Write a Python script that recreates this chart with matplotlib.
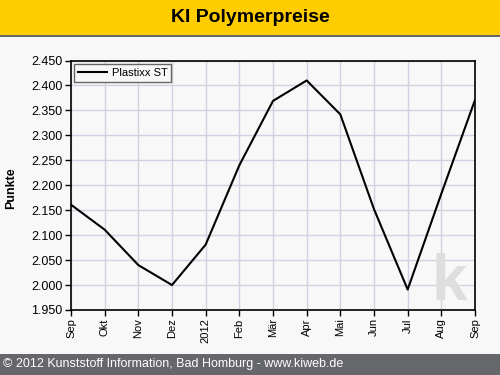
import matplotlib
matplotlib.use("Agg")
import matplotlib.pyplot as plt
from matplotlib.patches import Rectangle

plt.rcParams['font.family'] = ['Liberation Sans', 'DejaVu Sans']

# data
months = ['Sep', 'Okt', 'Nov', 'Dez', '2012', 'Feb', 'Mär', 'Apr',
          'Mai', 'Jun', 'Jul', 'Aug', 'Sep']
plastixx = [2.161, 2.111, 2.040, 2.000, 2.081, 2.240, 2.369, 2.410,
            2.342, 2.152, 1.991, 2.183, 2.371]
y_ticks = [1.95, 2.0, 2.05, 2.1, 2.15, 2.2, 2.25, 2.3, 2.35, 2.4, 2.45]

W, H = 500, 375
fig = plt.figure(figsize=(W / 100, H / 100), dpi=100)
fig.patch.set_facecolor('#f8f8f8')

# header and footer bars
fig.patches.append(Rectangle((0, 1 - 35 / H), 1, 35 / H, transform=fig.transFigure,
                             facecolor='#ffcc00', edgecolor='none', zorder=0))
fig.patches.append(Rectangle((0, 1 - 37 / H), 1, 2 / H, transform=fig.transFigure,
                             facecolor='#666666', edgecolor='none', zorder=0))
fig.patches.append(Rectangle((0, 0), 1, 21 / H, transform=fig.transFigure,
                             facecolor='#66676b', edgecolor='none', zorder=0))
fig.text(0.5, 1 - 18 / H, 'KI Polymerpreise', ha='center', va='center',
         fontsize=14, fontweight='bold', color='black')
fig.text(3 / W, 10.5 / H, '© 2012 Kunststoff Information, Bad Homburg - www.kiweb.de',
         ha='left', va='center', fontsize=9, color='white')

ax = fig.add_axes([71 / W, 1 - 310 / H, 404 / W, 249.5 / H])
ax.set_facecolor('#f8f8f8')
x = list(range(len(months)))
ax.plot(x, plastixx, color='black', linewidth=1.5, label='Plastixx ST', zorder=3)

ax.set_xlim(0, len(months) - 1)
ax.set_ylim(1.95, 2.45)
ax.set_xticks(x)
ax.set_xticklabels(months, rotation=90, fontsize=8)
ax.set_yticks(y_ticks)
ax.set_yticklabels(['%.3f' % v for v in y_ticks], fontsize=9)
ax.tick_params(direction='out', length=4, width=1, color='black', pad=2)
ax.grid(True, color='#d4d0e2', linewidth=1)
ax.set_axisbelow(True)
for s in ax.spines.values():
    s.set_color('black')
    s.set_linewidth(1.2)
ax.set_ylabel('Punkte', fontsize=9, fontweight='bold')
ax.yaxis.set_label_coords(-0.134, 0.49)

# watermark
ax.text(0.937, 0.04, 'k', transform=ax.transAxes, ha='center', va='baseline',
        fontsize=46, fontweight='bold', color='#dedede', zorder=1)

leg = ax.legend(loc='upper left', fontsize=8, frameon=True, fancybox=False,
                handlelength=2.6, borderpad=0.35, borderaxespad=0.3,
                handletextpad=0.4)
leg.get_frame().set_edgecolor('#666666')
leg.get_frame().set_facecolor('#f8f8f8')
leg.get_frame().set_alpha(1)
leg.get_frame().set_linewidth(1)

fig.savefig('out.png', dpi=100, facecolor=fig.get_facecolor())
